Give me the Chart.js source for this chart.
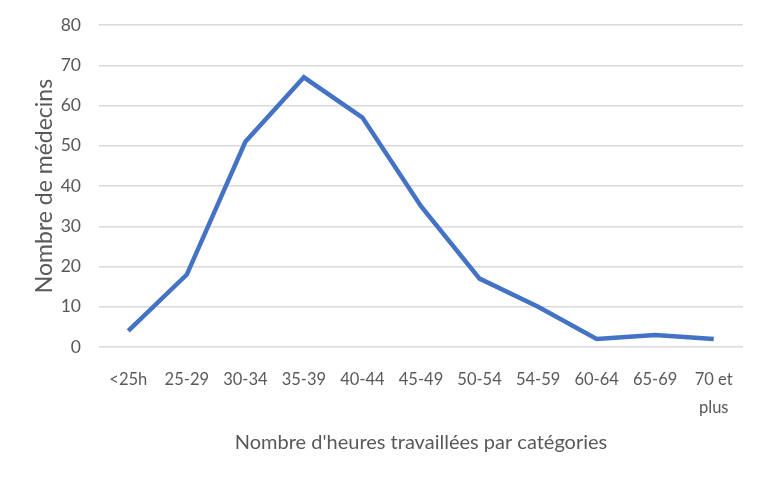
<!DOCTYPE html>
<html>
<head>
<meta charset="utf-8">
<script src="https://cdn.jsdelivr.net/npm/chart.js@4/dist/chart.umd.min.js"></script>
<style>
  html, body { margin: 0; padding: 0; background: #fff; }
  #wrap { width: 758px; height: 488px; }
</style>
</head>
<body>
<div id="wrap"><canvas id="myChart" width="758" height="488"></canvas></div>
<script>
const categories = ["<25h", "25-29", "30-34", "35-39", "40-44", "45-49", "50-54", "54-59", "60-64", "65-69", ["70 et", "plus"]];
const medecins = [4, 18, 51, 67, 57, 35, 17, 10, 2, 3, 2];
const yTicks = [0, 10, 20, 30, 40, 50, 60, 70, 80];

const textColor = "#595959";
const fontFamily = "Lato, 'Open Sans', sans-serif";

new Chart("myChart", {
    type: "line",
    data: {
        labels: categories,
        datasets: [{
            data: medecins,
            borderColor: "#4472C4",
            borderWidth: 4.5,
            pointRadius: 0,
            fill: false,
            tension: 0
        }]
    },
    options: {
        responsive: false,
        animation: false,
        layout: { padding: { left: 31, right: 15, top: 25, bottom: 33 } },
        plugins: {
            legend: { display: false },
            tooltip: { enabled: false }
        },
        scales: {
            x: {
                offset: true,
                afterFit: function (axis) { axis.height = 108; },
                grid: { display: false },
                border: { display: false },
                ticks: {
                    color: textColor,
                    font: { family: fontFamily, size: 16.5, lineHeight: 1.7 },
                    maxRotation: 0,
                    autoSkip: false,
                    padding: 11
                },
                title: {
                    display: true,
                    text: "Nombre d'heures travaillées par catégories",
                    color: textColor,
                    font: { family: fontFamily, size: 20 },
                    padding: { top: 12, bottom: 0 }
                }
            },
            y: {
                min: 0,
                max: 80,
                afterBuildTicks: function (axis) {
                    axis.ticks = yTicks.map(v => ({ value: v }));
                },
                afterFit: function (axis) {
                    axis.width = 68;
                    axis.paddingTop = 0;
                    axis.paddingBottom = 0;
                },
                grid: { color: "#d9d9d9", lineWidth: 1.5, drawTicks: false },
                border: { display: false },
                ticks: {
                    color: textColor,
                    font: { family: fontFamily, size: 17.5 },
                    padding: 18
                },
                title: {
                    display: true,
                    text: "Nombre de médecins",
                    color: textColor,
                    font: { family: fontFamily, size: 23 },
                    padding: { top: 0, bottom: 2 }
                }
            }
        }
    }
});
</script>
</body>
</html>
